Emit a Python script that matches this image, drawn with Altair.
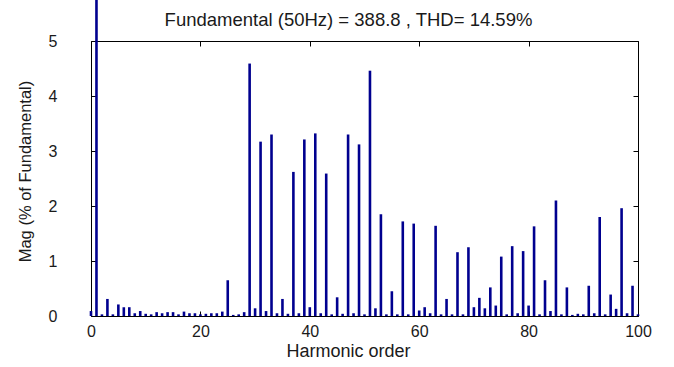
import altair as alt
import pandas as pd

# Harmonic spectrum of the measured current, in % of the fundamental
harmonic_order = list(range(0, 101))
magnitude_pct = [
    0.09, 100.0, 0.03, 0.31, 0.03, 0.21, 0.16, 0.16, 0.05, 0.09,   # 0-9
    0.04, 0.03, 0.07, 0.05, 0.07, 0.07, 0.03, 0.08, 0.05, 0.05,    # 10-19
    0.03, 0.04, 0.05, 0.05, 0.08, 0.65, 0.02, 0.03, 0.07, 4.59,    # 20-29
    0.14, 3.17, 0.09, 3.30, 0.05, 0.31, 0.04, 2.62, 0.05, 3.21,    # 30-39
    0.16, 3.32, 0.05, 2.59, 0.03, 0.34, 0.04, 3.30, 0.05, 3.12,    # 40-49
    0.03, 4.46, 0.14, 1.85, 0.03, 0.45, 0.03, 1.72, 0.03, 1.68,    # 50-59
    0.10, 0.16, 0.05, 1.64, 0.03, 0.31, 0.03, 1.16, 0.03, 1.25,    # 60-69
    0.16, 0.33, 0.14, 0.52, 0.19, 1.08, 0.03, 1.27, 0.05, 1.18,    # 70-79
    0.19, 1.63, 0.03, 0.65, 0.09, 2.10, 0.03, 0.52, 0.02, 0.04,    # 80-89
    0.03, 0.55, 0.05, 1.80, 0.03, 0.39, 0.13, 1.96, 0.05, 0.55,    # 90-99
    0.03,                                                          # 100
]
x_ticks = [0, 20, 40, 60, 80, 100]
y_ticks = [0, 1, 2, 3, 4, 5]

title_text = "Fundamental (50Hz) = 388.8 , THD= 14.59%"
x_title = "Harmonic order"
y_title = "Mag (% of Fundamental)"

df = pd.DataFrame({"h": harmonic_order, "mag": magnitude_pct})

W, H = 547, 275
FONT = "Liberation Sans"
TXT = "#1a1a1a"
BAR = "#00008f"
FS = 16

xs = alt.Scale(domain=[0, 100], nice=False, zero=False, padding=0)
ys = alt.Scale(domain=[0, 5], nice=False)

# main bars with the labelled axes
bars = alt.Chart(df).mark_bar(size=2.6, color=BAR, clip=False).encode(
    x=alt.X("h:Q", scale=xs, axis=alt.Axis(
        values=x_ticks, tickSize=0, labelPadding=7, labelFlush=False,
        grid=False, domain=False,
        title=x_title, titlePadding=3, titleX=257, labelFontSize=FS, titleFontSize=18,
        labelFont=FONT, titleFont=FONT, labelColor=TXT, titleColor=TXT,
        titleFontWeight="normal")),
    y=alt.Y("mag:Q", scale=ys, axis=alt.Axis(
        values=y_ticks, tickSize=0, labelPadding=34, labelFlush=False,
        grid=False, domain=False,
        title=y_title, titlePadding=15, titleY=130, labelFontSize=FS,
        titleFontSize=16.5, labelFont=FONT, titleFont=FONT, labelColor=TXT,
        titleColor=TXT, titleFontWeight="normal")),
)

# inward tick marks on the bottom and left edges
ticks_bl = alt.Chart(df).mark_point(opacity=0).encode(
    x=alt.X("h:Q", scale=xs, axis=alt.Axis(
        orient="top", offset=-H, values=x_ticks, labels=False, title=None,
        domain=False, grid=False, tickSize=5, tickColor="black")),
    y=alt.Y("mag:Q", scale=ys, axis=alt.Axis(
        orient="right", offset=-W, values=y_ticks, labels=False, title=None,
        domain=False, grid=False, tickSize=5, tickColor="black")),
)

# inward tick marks on the top and right edges
ticks_tr = alt.Chart(df).mark_point(opacity=0).encode(
    x=alt.X("h:Q", scale=xs, axis=alt.Axis(
        orient="bottom", offset=-H, values=x_ticks, labels=False, title=None,
        domain=False, grid=False, tickSize=5, tickColor="black")),
    y=alt.Y("mag:Q", scale=ys, axis=alt.Axis(
        orient="left", offset=-W, values=y_ticks, labels=False, title=None,
        domain=False, grid=False, tickSize=5, tickColor="black")),
)

# heading line carried by a bare top axis
heading = alt.Chart(df).mark_point(opacity=0).encode(
    x=alt.X("h:Q", scale=xs, axis=alt.Axis(
        orient="top", values=x_ticks, labels=False, ticks=False, domain=False,
        grid=False, title=title_text, titleX=257, titlePadding=12,
        titleFontSize=18.5, titleFont=FONT, titleColor=TXT,
        titleFontWeight="normal")),
)

chart = (
    alt.layer(bars, ticks_bl, ticks_tr, heading)
    .resolve_axis(x="independent", y="independent")
    .properties(
        width=W, height=H,
        autosize=alt.AutoSizeParams(type="none"),
        padding={"left": 91, "top": 41, "right": 36, "bottom": 51},
        background="white",
    )
    .configure_view(stroke="black", strokeWidth=1)
)

chart.save("out.html", embed_options={"renderer": "svg", "actions": False})
